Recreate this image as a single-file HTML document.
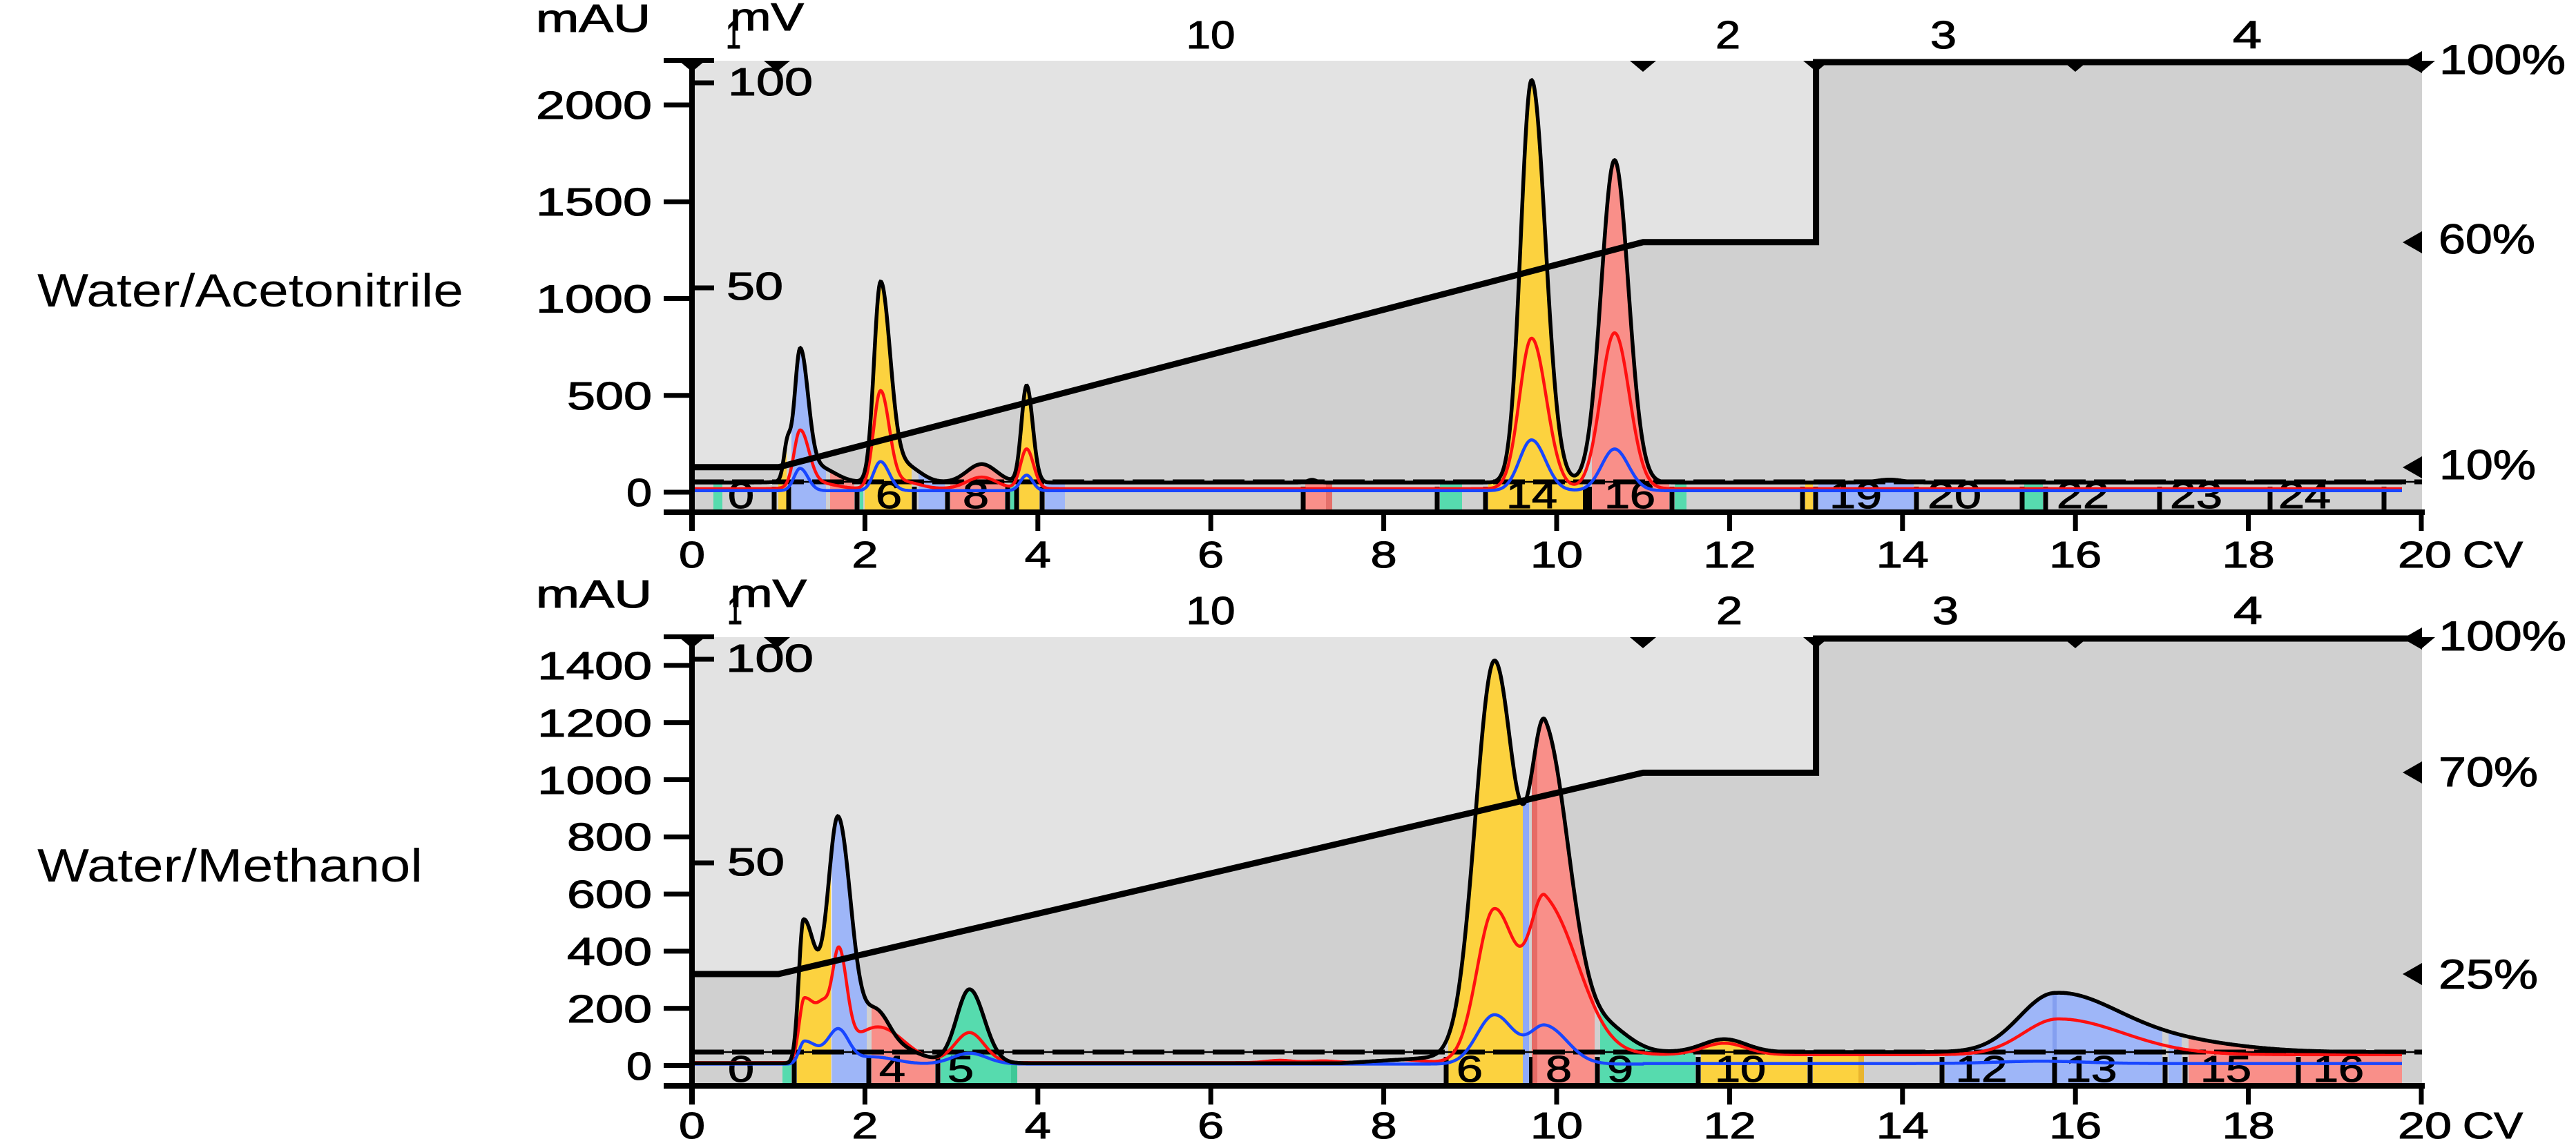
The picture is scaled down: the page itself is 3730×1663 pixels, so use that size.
<!DOCTYPE html>
<html><head><meta charset="utf-8"><title>Chromatograms</title>
<style>
html,body{margin:0;padding:0;background:#fff;width:3730px;height:1663px;overflow:hidden;}
svg{display:block;}
text{font-family:"Liberation Sans","DejaVu Sans",sans-serif;fill:#000;}
.c text{stroke:#000;stroke-width:1.1px;}
</style></head><body>
<svg xmlns="http://www.w3.org/2000/svg" width="3730" height="1663" viewBox="0 0 3730 1663">
<rect width="3730" height="1663" fill="#fff"/>

<!-- left labels -->
<text x="54" y="444" font-size="68" textLength="617" lengthAdjust="spacingAndGlyphs">Water/Acetonitrile</text>
<text x="54" y="1277" font-size="68" textLength="558" lengthAdjust="spacingAndGlyphs">Water/Methanol</text>

<g class="c">
<!-- ================= CHART 1 ================= -->
<rect x="1002" y="88" width="2505" height="654" fill="#e3e3e3"/>
<path d="M1002 676.8 L1127.2 676.8 L2379.2 350.8 L2629.6 350.8 L2629.6 88 L3507 88 L3507 742 L1002 742 Z" fill="#d0d0d0"/>
<g id="f1"></g>
<g fill="#000">
<rect x="1117.5" y="705" width="7" height="37"/><rect x="1138.5" y="705" width="7" height="37"/>
<rect x="1237.5" y="705" width="7" height="37"/><rect x="1320.5" y="705" width="7" height="37"/>
<rect x="1368.5" y="705" width="7" height="37"/><rect x="1455.5" y="705" width="7" height="37"/>
<rect x="1468.5" y="705" width="7" height="37"/><rect x="1505.5" y="705" width="7" height="37"/>
<rect x="1883.5" y="705" width="7" height="37"/><rect x="2077.5" y="705" width="7" height="37"/>
<rect x="2147.5" y="705" width="7" height="37"/><rect x="2292" y="705" width="13" height="37"/>
<rect x="2417.5" y="705" width="7" height="37"/><rect x="2606.5" y="705" width="7" height="37"/>
<rect x="2625.5" y="705" width="7" height="37"/><rect x="2771.5" y="705" width="7" height="37"/>
<rect x="2924.5" y="705" width="7" height="37"/><rect x="2958.5" y="705" width="7" height="37"/>
<rect x="3123.5" y="705" width="7" height="37"/><rect x="3283.5" y="705" width="7" height="37"/>
<rect x="3448.5" y="705" width="7" height="37"/>
</g>
<g font-size="54" text-anchor="middle">
<text x="1073" y="736" textLength="38" lengthAdjust="spacingAndGlyphs">0</text>
<text x="1287" y="736" textLength="38" lengthAdjust="spacingAndGlyphs">6</text>
<text x="1413" y="736" textLength="38" lengthAdjust="spacingAndGlyphs">8</text>
<text x="2218" y="736" textLength="74" lengthAdjust="spacingAndGlyphs">14</text>
<text x="2360" y="736" textLength="74" lengthAdjust="spacingAndGlyphs">16</text>
<text x="2687" y="736" textLength="76" lengthAdjust="spacingAndGlyphs">19</text>
<text x="2830" y="736" textLength="78" lengthAdjust="spacingAndGlyphs">20</text>
<text x="3016" y="736" textLength="76" lengthAdjust="spacingAndGlyphs">22</text>
<text x="3180" y="736" textLength="76" lengthAdjust="spacingAndGlyphs">23</text>
<text x="3337" y="736" textLength="76" lengthAdjust="spacingAndGlyphs">24</text>
</g>
<line x1="1002" y1="698" x2="3507" y2="698" stroke="#000" stroke-width="2.5"/>
<line x1="1002" y1="698" x2="3507" y2="698" stroke="#000" stroke-width="7" stroke-dasharray="46 12"/>
<g id="l1"></g>
<path d="M1002 676.8 H1127.2 L2379.2 350.8 H2629.6 V90 H3507" fill="none" stroke="#000" stroke-width="9" stroke-linejoin="miter"/>
<!-- axes -->
<g fill="#000">
<rect x="998" y="84" width="8" height="685"/>
<rect x="961" y="738" width="2550" height="8"/>
<rect x="961" y="84" width="73" height="7"/>
<rect x="961" y="709.5" width="41" height="7"/><rect x="961" y="569.3" width="41" height="7"/>
<rect x="961" y="429" width="41" height="7"/><rect x="961" y="288.8" width="41" height="7"/>
<rect x="961" y="148.5" width="41" height="7"/>
<rect x="1002" y="116.5" width="32" height="7"/><rect x="1002" y="413.5" width="32" height="7"/>
<rect x="998.5" y="742" width="7" height="27"/><rect x="1248.9" y="742" width="7" height="27"/>
<rect x="1499.3" y="742" width="7" height="27"/><rect x="1749.7" y="742" width="7" height="27"/>
<rect x="2000.1" y="742" width="7" height="27"/><rect x="2250.5" y="742" width="7" height="27"/>
<rect x="2500.9" y="742" width="7" height="27"/><rect x="2751.3" y="742" width="7" height="27"/>
<rect x="3001.7" y="742" width="7" height="27"/><rect x="3252.1" y="742" width="7" height="27"/>
<rect x="3502.5" y="742" width="7" height="27"/>
<polygon points="983,88 1021,88 1002,104"/><polygon points="1106,88 1144,88 1125,104"/>
<polygon points="2360,88 2398,88 2379,104"/><polygon points="2611,88 2649,88 2630,104"/>
<polygon points="2986,88 3024,88 3005,104"/><polygon points="3488,88 3526,88 3507,104"/>
<polygon points="3507,74 3507,106 3479,90"/><polygon points="3507,335 3507,367 3479,351"/>
<polygon points="3507,661 3507,693 3479,677"/>
</g>
<text x="776" y="46" font-size="57" textLength="166" lengthAdjust="spacingAndGlyphs">mAU</text>
<text x="1057" y="44" font-size="57" textLength="107" lengthAdjust="spacingAndGlyphs">mV</text>
<g font-size="57" text-anchor="middle">
<text x="1062" y="70" textLength="22" lengthAdjust="spacingAndGlyphs">1</text>
<text x="1753" y="70" textLength="71" lengthAdjust="spacingAndGlyphs">10</text>
<text x="2502" y="70" textLength="36" lengthAdjust="spacingAndGlyphs">2</text>
<text x="2814" y="70" textLength="38" lengthAdjust="spacingAndGlyphs">3</text>
<text x="3254" y="70" textLength="42" lengthAdjust="spacingAndGlyphs">4</text>
</g>
<g font-size="57" text-anchor="end">
<text x="944" y="172" textLength="168" lengthAdjust="spacingAndGlyphs">2000</text>
<text x="944" y="312" textLength="168" lengthAdjust="spacingAndGlyphs">1500</text>
<text x="944" y="452.5" textLength="168" lengthAdjust="spacingAndGlyphs">1000</text>
<text x="944" y="593" textLength="123" lengthAdjust="spacingAndGlyphs">500</text>
<text x="944" y="733" textLength="37" lengthAdjust="spacingAndGlyphs">0</text>
</g>
<text x="1054" y="138" font-size="57" textLength="123" lengthAdjust="spacingAndGlyphs">100</text>
<text x="1052" y="434" font-size="57" textLength="82" lengthAdjust="spacingAndGlyphs">50</text>
<g font-size="54" text-anchor="middle">
<text x="1002" y="822" textLength="38" lengthAdjust="spacingAndGlyphs">0</text>
<text x="1252.4" y="822" textLength="38" lengthAdjust="spacingAndGlyphs">2</text>
<text x="1502.8" y="822" textLength="38" lengthAdjust="spacingAndGlyphs">4</text>
<text x="1753.2" y="822" textLength="38" lengthAdjust="spacingAndGlyphs">6</text>
<text x="2003.6" y="822" textLength="38" lengthAdjust="spacingAndGlyphs">8</text>
<text x="2254" y="822" textLength="76" lengthAdjust="spacingAndGlyphs">10</text>
<text x="2504.4" y="822" textLength="76" lengthAdjust="spacingAndGlyphs">12</text>
<text x="2754.8" y="822" textLength="76" lengthAdjust="spacingAndGlyphs">14</text>
<text x="3005.2" y="822" textLength="76" lengthAdjust="spacingAndGlyphs">16</text>
<text x="3255.6" y="822" textLength="76" lengthAdjust="spacingAndGlyphs">18</text>
<text x="3511" y="822" textLength="78" lengthAdjust="spacingAndGlyphs">20</text>
</g>
<text x="3566" y="822" font-size="54" textLength="87" lengthAdjust="spacingAndGlyphs">CV</text>
<text x="3532" y="107" font-size="60" textLength="183" lengthAdjust="spacingAndGlyphs">100%</text>
<text x="3531" y="367" font-size="60" textLength="140" lengthAdjust="spacingAndGlyphs">60%</text>
<text x="3532" y="694" font-size="60" textLength="140" lengthAdjust="spacingAndGlyphs">10%</text>

<!-- ================= CHART 2 ================= -->
<rect x="1002" y="923" width="2505" height="650" fill="#e3e3e3"/>
<path d="M1002 1411 L1127.2 1411 L2379.2 1119.4 L2629.6 1119.4 L2629.6 923 L3507 923 L3507 1573 L1002 1573 Z" fill="#d0d0d0"/>
<g id="f2"></g>
<g fill="#000">
<rect x="1146.5" y="1531" width="7" height="42"/><rect x="1254.5" y="1531" width="7" height="42"/>
<rect x="1354.5" y="1531" width="7" height="42"/><rect x="2090.5" y="1531" width="7" height="42"/>
<rect x="2214" y="1531" width="5" height="42"/><rect x="2309.5" y="1531" width="7" height="42"/>
<rect x="2455.5" y="1531" width="7" height="42"/><rect x="2617.5" y="1531" width="7" height="42"/>
<rect x="2808.5" y="1531" width="7" height="42"/><rect x="2971.5" y="1531" width="7" height="42"/>
<rect x="3131.5" y="1531" width="7" height="42"/><rect x="3160.5" y="1531" width="7" height="42"/>
<rect x="3324.5" y="1531" width="7" height="42"/>
</g>
<g font-size="54" text-anchor="middle">
<text x="1073" y="1567" textLength="38" lengthAdjust="spacingAndGlyphs">0</text>
<text x="1292" y="1567" textLength="38" lengthAdjust="spacingAndGlyphs">4</text>
<text x="1391" y="1567" textLength="38" lengthAdjust="spacingAndGlyphs">5</text>
<text x="2128" y="1567" textLength="38" lengthAdjust="spacingAndGlyphs">6</text>
<text x="2257" y="1567" textLength="38" lengthAdjust="spacingAndGlyphs">8</text>
<text x="2346" y="1567" textLength="38" lengthAdjust="spacingAndGlyphs">9</text>
<text x="2520" y="1567" textLength="74" lengthAdjust="spacingAndGlyphs">10</text>
<text x="2869" y="1567" textLength="75" lengthAdjust="spacingAndGlyphs">12</text>
<text x="3028" y="1567" textLength="75" lengthAdjust="spacingAndGlyphs">13</text>
<text x="3223" y="1567" textLength="74" lengthAdjust="spacingAndGlyphs">15</text>
<text x="3386" y="1567" textLength="74" lengthAdjust="spacingAndGlyphs">16</text>
</g>
<line x1="1002" y1="1524" x2="3507" y2="1524" stroke="#000" stroke-width="2.5"/>
<line x1="1002" y1="1524" x2="3507" y2="1524" stroke="#000" stroke-width="7" stroke-dasharray="46 12"/>
<g id="l2"></g>
<path d="M1002 1411 H1127.2 L2379.2 1119.4 H2629.6 V925 H3507" fill="none" stroke="#000" stroke-width="9" stroke-linejoin="miter"/>
<g fill="#000">
<rect x="998" y="919" width="8" height="681"/>
<rect x="961" y="1569" width="2550" height="8"/>
<rect x="961" y="919" width="73" height="7"/>
<rect x="961" y="1540" width="41" height="7"/><rect x="961" y="1457.2" width="41" height="7"/>
<rect x="961" y="1374.4" width="41" height="7"/><rect x="961" y="1291.6" width="41" height="7"/>
<rect x="961" y="1208.8" width="41" height="7"/><rect x="961" y="1126" width="41" height="7"/>
<rect x="961" y="1043.2" width="41" height="7"/><rect x="961" y="960.4" width="41" height="7"/>
<rect x="1002" y="951.5" width="32" height="7"/><rect x="1002" y="1246.5" width="32" height="7"/>
<rect x="998.5" y="1573" width="7" height="27"/><rect x="1248.9" y="1573" width="7" height="27"/>
<rect x="1499.3" y="1573" width="7" height="27"/><rect x="1749.7" y="1573" width="7" height="27"/>
<rect x="2000.1" y="1573" width="7" height="27"/><rect x="2250.5" y="1573" width="7" height="27"/>
<rect x="2500.9" y="1573" width="7" height="27"/><rect x="2751.3" y="1573" width="7" height="27"/>
<rect x="3001.7" y="1573" width="7" height="27"/><rect x="3252.1" y="1573" width="7" height="27"/>
<rect x="3502.5" y="1573" width="7" height="27"/>
<polygon points="983,923 1021,923 1002,939"/><polygon points="1106,923 1144,923 1125,939"/>
<polygon points="2360,923 2398,923 2379,939"/><polygon points="2611,923 2649,923 2630,939"/>
<polygon points="2986,923 3024,923 3005,939"/><polygon points="3488,923 3526,923 3507,939"/>
<polygon points="3507,909 3507,941 3479,925"/><polygon points="3507,1103 3507,1135 3479,1119"/>
<polygon points="3507,1395 3507,1427 3479,1411"/>
</g>
<text x="776" y="880" font-size="57" textLength="168" lengthAdjust="spacingAndGlyphs">mAU</text>
<text x="1057" y="879" font-size="57" textLength="111" lengthAdjust="spacingAndGlyphs">mV</text>
<g font-size="57" text-anchor="middle">
<text x="1064" y="904" textLength="22" lengthAdjust="spacingAndGlyphs">1</text>
<text x="1753" y="904" textLength="71" lengthAdjust="spacingAndGlyphs">10</text>
<text x="2504" y="904" textLength="38" lengthAdjust="spacingAndGlyphs">2</text>
<text x="2817" y="904" textLength="38" lengthAdjust="spacingAndGlyphs">3</text>
<text x="3255" y="904" textLength="42" lengthAdjust="spacingAndGlyphs">4</text>
</g>
<g font-size="57" text-anchor="end">
<text x="944" y="984" textLength="166" lengthAdjust="spacingAndGlyphs">1400</text>
<text x="944" y="1067" textLength="166" lengthAdjust="spacingAndGlyphs">1200</text>
<text x="944" y="1150" textLength="166" lengthAdjust="spacingAndGlyphs">1000</text>
<text x="944" y="1232" textLength="123" lengthAdjust="spacingAndGlyphs">800</text>
<text x="944" y="1315" textLength="123" lengthAdjust="spacingAndGlyphs">600</text>
<text x="944" y="1398" textLength="123" lengthAdjust="spacingAndGlyphs">400</text>
<text x="944" y="1481" textLength="123" lengthAdjust="spacingAndGlyphs">200</text>
<text x="944" y="1564" textLength="37" lengthAdjust="spacingAndGlyphs">0</text>
</g>
<text x="1051" y="973" font-size="57" textLength="127" lengthAdjust="spacingAndGlyphs">100</text>
<text x="1053" y="1268" font-size="57" textLength="83" lengthAdjust="spacingAndGlyphs">50</text>
<g font-size="54" text-anchor="middle">
<text x="1002" y="1649" textLength="38" lengthAdjust="spacingAndGlyphs">0</text>
<text x="1252.4" y="1649" textLength="38" lengthAdjust="spacingAndGlyphs">2</text>
<text x="1502.8" y="1649" textLength="38" lengthAdjust="spacingAndGlyphs">4</text>
<text x="1753.2" y="1649" textLength="38" lengthAdjust="spacingAndGlyphs">6</text>
<text x="2003.6" y="1649" textLength="38" lengthAdjust="spacingAndGlyphs">8</text>
<text x="2254" y="1649" textLength="76" lengthAdjust="spacingAndGlyphs">10</text>
<text x="2504.4" y="1649" textLength="76" lengthAdjust="spacingAndGlyphs">12</text>
<text x="2754.8" y="1649" textLength="76" lengthAdjust="spacingAndGlyphs">14</text>
<text x="3005.2" y="1649" textLength="76" lengthAdjust="spacingAndGlyphs">16</text>
<text x="3255.6" y="1649" textLength="76" lengthAdjust="spacingAndGlyphs">18</text>
<text x="3511" y="1649" textLength="78" lengthAdjust="spacingAndGlyphs">20</text>
</g>
<text x="3566" y="1649" font-size="54" textLength="87" lengthAdjust="spacingAndGlyphs">CV</text>
<text x="3531" y="942" font-size="60" textLength="185" lengthAdjust="spacingAndGlyphs">100%</text>
<text x="3531" y="1139" font-size="60" textLength="144" lengthAdjust="spacingAndGlyphs">70%</text>
<text x="3531" y="1432" font-size="60" textLength="144" lengthAdjust="spacingAndGlyphs">25%</text>
</g>
</svg>

<script>
(function(){
var NS='http://www.w3.org/2000/svg',X0=1002,K=125.2;
var GR='#56dbae',YE='#fcd23f',BL='#9eb6f8',RE='#f98f89';
function cv(px){return (px-X0)/K;}
function G(x,p){var s=x<p[0]?p[2]:p[3];var d=(x-p[0])/s;return p[1]*Math.exp(-0.5*d*d);}
function mk(base,peaks){return function(x){var v=(typeof base==='function')?base(x):base;for(var i=0;i<peaks.length;i++)v+=G(x,peaks[i]);return v;};}
function el(gid,tag,a){var e=document.createElementNS(NS,tag);for(var k in a)e.setAttribute(k,a[k]);document.getElementById(gid).appendChild(e);}
function line(f,Y,x0,x1){var d='';for(var px=x0;px<=x1;px++){d+=(px===x0?'M':'L')+px+' '+Y(f(cv(px))).toFixed(1);}return d;}
function fill(f,Y,x0,x1,ay){var d='M'+x0+' '+ay;for(var px=x0;px<=x1;px++){d+='L'+px+' '+Y(f(cv(px))).toFixed(1);}return d+'L'+x1+' '+ay+'Z';}

/* chart 1 */
var Y1=function(v){return 713-v*0.2805;};
var b1=mk(50,[[1.10,170,.04,.04],[1.25,645,.065,.09],[1.45,80,.2,.2],[2.18,1008,.075,.11],[2.45,90,.18,.18],[3.35,95,.17,.17],[3.87,500,.06,.07],[7.17,14,.05,.05],[9.71,2078,.125,.16],[10.67,1665,.155,.16],[13.85,15,.15,.15]]);
var r1=mk(18,[[1.25,285,.07,.1],[1.45,30,.2,.2],[2.18,495,.08,.1],[2.45,35,.18,.18],[3.35,60,.17,.17],[3.87,205,.07,.08],[9.71,777,.14,.17],[10.67,805,.16,.17]]);
var u1=mk(8,[[1.25,115,.07,.09],[2.18,150,.08,.1],[3.87,80,.07,.07],[9.71,262,.14,.16],[10.67,215,.15,.16]]);
var F1=[[1033,1046,GR],[1127,1139,YE],[1146,1196,BL],[1202,1237,RE],[1245,1250,GR],[1252,1320,YE],[1330,1368,BL],[1376,1455,RE],[1463,1469,GR],[1476,1505,YE],[1513,1542,BL],[1890,1929,RE],[1920,1929,'#e5706b'],[2085,2117,GR],[2155,2292,YE],[2305,2417,RE],[2425,2442,GR],[2614,2625,YE],[2633,2771,BL],[2931,2958,GR]];
F1.forEach(function(f){el('f1','path',{d:fill(b1,Y1,f[0],f[1],742),fill:f[2]});});
el('l1','path',{d:line(r1,Y1,1002,3478),fill:'none',stroke:'#ff1010','stroke-width':4.5});
el('l1','path',{d:line(u1,Y1,1002,3478),fill:'none',stroke:'#1846ff','stroke-width':4.5});
el('l1','path',{d:line(b1,Y1,1002,3478),fill:'none',stroke:'#000','stroke-width':5.5});

/* chart 2 */
var Y2=function(v){return 1543.5-v*0.414;};
var bb2=function(x){return x<7.5?8:(x<8.7?8+(x-7.5)/1.2*22:(x<11?30+(x-8.7)/2.3*17:47));};
var b2=mk(bb2,[[1.29,500,.055,.15],[1.69,840,.12,.15],[2.12,130,.15,.15],[2.3,60,.3,.3],[3.21,258,.15,.17],[9.28,1380,.22,.24],[9.87,1100,.17,.28],[10.6,80,.25,.25],[11.94,45,.25,.25],[15.75,195,.4,.7],[17.0,40,.8,.8]]);
var rb2=function(x){return x<8.6?10:(x<11?10+(x-8.6)/2.4*28:38);};
var r2=mk(rb2,[[1.30,225,.06,.2],[1.52,60,.06,.06],[1.70,333,.08,.09],[2.15,125,.3,.3],[3.21,105,.17,.17],[6.8,8,.15,.15],[7.3,6,.15,.15],[8.2,10,.25,.25],[9.28,530,.2,.26],[9.87,530,.17,.38],[11.94,40,.25,.25],[15.8,125,.4,.75]]);
var u2=mk(function(x){return x<11?5:7;},[[1.30,80,.06,.15],[1.69,115,.12,.12],[2.1,25,.25,.25],[3.21,38,.2,.2],[9.28,172,.2,.22],[9.87,132,.18,.25],[15.6,8,.5,.5]]);
var F2=[[1133,1146,GR],[1154,1203,YE],[1205,1255,BL],[1262,1354,RE],[1362,1473,GR],[1464,1473,'#3ec897'],[2097,2205,YE],[2205,2214,'#8fa9f9'],[2218,2309,RE],[2218,2226,'#e66b66'],[2317,2455,GR],[2463,2617,YE],[2625,2699,YE],[2691,2699,'#e9b52e'],[2816,2972,BL],[2972,2978,'#849ff0'],[2978,3131,BL],[3140,3159,BL],[3169,3324,RE],[3331,3478,RE]];
F2.forEach(function(f){el('f2','path',{d:fill(b2,Y2,f[0],f[1],1573),fill:f[2]});});
el('l2','path',{d:line(r2,Y2,1002,3478),fill:'none',stroke:'#ff1010','stroke-width':4.5});
el('l2','path',{d:line(u2,Y2,1002,3478),fill:'none',stroke:'#1846ff','stroke-width':4.5});
el('l2','path',{d:line(b2,Y2,1002,3478),fill:'none',stroke:'#000','stroke-width':5.5});
})();
</script>
</body></html>
